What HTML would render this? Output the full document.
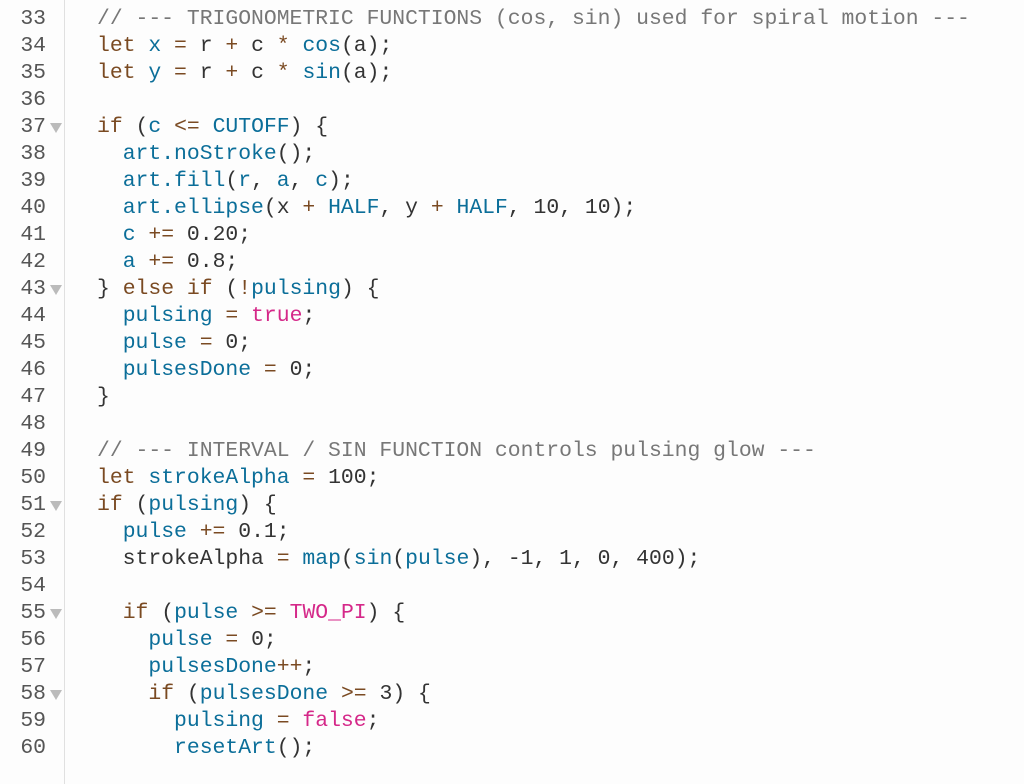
<!DOCTYPE html>
<html><head><meta charset="utf-8"><style>
body{margin:0;background:#fdfdfd;width:1024px;height:784px;overflow:hidden;font-family:"Liberation Mono",monospace;font-size:21.4px;}
.g{position:absolute;left:0;top:0;width:64px;height:784px;border-right:1px solid #e0e0e0;background:#fdfdfd}
.l{position:absolute;left:0;height:27px;line-height:27px;white-space:pre;margin-top:2px}
.n{width:46px;text-align:right;color:#555;}
.c{left:97px;color:#333}
.t{position:absolute;left:50px;width:0;height:0;border-left:6px solid transparent;border-right:6px solid transparent;border-top:10px solid #bbb;margin-top:2px}
.k{color:#7a4a22}.b{color:#0b6e99}.m{color:#777}.p{color:#d52889}
</style></head><body>
<div class="g"></div>
<div class="l n" style="top:4px">33</div><div class="l c" style="top:4px"><span class="m">// --- TRIGONOMETRIC FUNCTIONS (cos, sin) used for spiral motion ---</span></div>
<div class="l n" style="top:31px">34</div><div class="l c" style="top:31px"><span class="k">let</span> <span class="b">x</span> <span class="k">=</span> r <span class="k">+</span> c <span class="k">*</span> <span class="b">cos</span>(a);</div>
<div class="l n" style="top:58px">35</div><div class="l c" style="top:58px"><span class="k">let</span> <span class="b">y</span> <span class="k">=</span> r <span class="k">+</span> c <span class="k">*</span> <span class="b">sin</span>(a);</div>
<div class="l n" style="top:85px">36</div>
<div class="l n" style="top:112px">37</div><div class="t" style="top:121px"></div><div class="l c" style="top:112px"><span class="k">if</span> (<span class="b">c</span> <span class="k">&lt;=</span> <span class="b">CUTOFF</span>) {</div>
<div class="l n" style="top:139px">38</div><div class="l c" style="top:139px">  <span class="b">art.noStroke</span>();</div>
<div class="l n" style="top:166px">39</div><div class="l c" style="top:166px">  <span class="b">art.fill</span>(<span class="b">r</span>, <span class="b">a</span>, <span class="b">c</span>);</div>
<div class="l n" style="top:193px">40</div><div class="l c" style="top:193px">  <span class="b">art.ellipse</span>(x <span class="k">+</span> <span class="b">HALF</span>, y <span class="k">+</span> <span class="b">HALF</span>, 10, 10);</div>
<div class="l n" style="top:220px">41</div><div class="l c" style="top:220px">  <span class="b">c</span> <span class="k">+=</span> 0.20;</div>
<div class="l n" style="top:247px">42</div><div class="l c" style="top:247px">  <span class="b">a</span> <span class="k">+=</span> 0.8;</div>
<div class="l n" style="top:274px">43</div><div class="t" style="top:283px"></div><div class="l c" style="top:274px">} <span class="k">else if</span> (<span class="k">!</span><span class="b">pulsing</span>) {</div>
<div class="l n" style="top:301px">44</div><div class="l c" style="top:301px">  <span class="b">pulsing</span> <span class="k">=</span> <span class="p">true</span>;</div>
<div class="l n" style="top:328px">45</div><div class="l c" style="top:328px">  <span class="b">pulse</span> <span class="k">=</span> 0;</div>
<div class="l n" style="top:355px">46</div><div class="l c" style="top:355px">  <span class="b">pulsesDone</span> <span class="k">=</span> 0;</div>
<div class="l n" style="top:382px">47</div><div class="l c" style="top:382px">}</div>
<div class="l n" style="top:409px">48</div>
<div class="l n" style="top:436px">49</div><div class="l c" style="top:436px"><span class="m">// --- INTERVAL / SIN FUNCTION controls pulsing glow ---</span></div>
<div class="l n" style="top:463px">50</div><div class="l c" style="top:463px"><span class="k">let</span> <span class="b">strokeAlpha</span> <span class="k">=</span> 100;</div>
<div class="l n" style="top:490px">51</div><div class="t" style="top:499px"></div><div class="l c" style="top:490px"><span class="k">if</span> (<span class="b">pulsing</span>) {</div>
<div class="l n" style="top:517px">52</div><div class="l c" style="top:517px">  <span class="b">pulse</span> <span class="k">+=</span> 0.1;</div>
<div class="l n" style="top:544px">53</div><div class="l c" style="top:544px">  strokeAlpha <span class="k">=</span> <span class="b">map</span>(<span class="b">sin</span>(<span class="b">pulse</span>), -1, 1, 0, 400);</div>
<div class="l n" style="top:571px">54</div>
<div class="l n" style="top:598px">55</div><div class="t" style="top:607px"></div><div class="l c" style="top:598px">  <span class="k">if</span> (<span class="b">pulse</span> <span class="k">&gt;=</span> <span class="p">TWO_PI</span>) {</div>
<div class="l n" style="top:625px">56</div><div class="l c" style="top:625px">    <span class="b">pulse</span> <span class="k">=</span> 0;</div>
<div class="l n" style="top:652px">57</div><div class="l c" style="top:652px">    <span class="b">pulsesDone</span><span class="k">++</span>;</div>
<div class="l n" style="top:679px">58</div><div class="t" style="top:688px"></div><div class="l c" style="top:679px">    <span class="k">if</span> (<span class="b">pulsesDone</span> <span class="k">&gt;=</span> 3) {</div>
<div class="l n" style="top:706px">59</div><div class="l c" style="top:706px">      <span class="b">pulsing</span> <span class="k">=</span> <span class="p">false</span>;</div>
<div class="l n" style="top:733px">60</div><div class="l c" style="top:733px">      <span class="b">resetArt</span>();</div>
</body></html>
